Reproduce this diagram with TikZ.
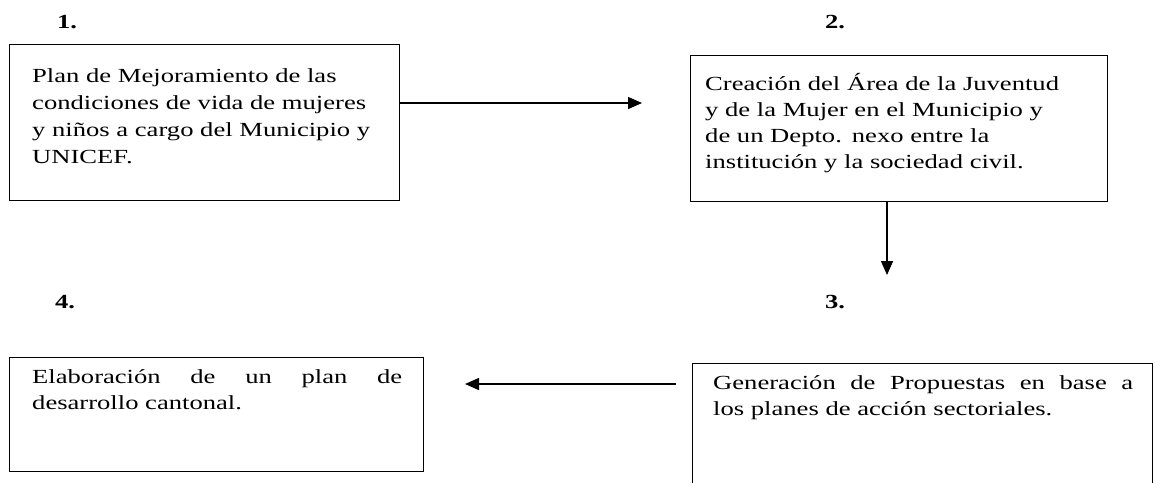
\documentclass[tikz,border=0pt]{standalone}
\usepackage{fontspec}
\setmainfont{Liberation Serif}[FakeStretch=1.33]
\usetikzlibrary{arrows.meta}
\begin{document}
\begin{tikzpicture}[x=1pt,y=-1pt,
  box/.style={draw, line width=1.4pt, inner sep=0pt, anchor=north west},
  txt/.style={inner sep=0pt, anchor=north west, align=left, text width=450pt,
    font=\fontsize{20}{26}\selectfont},
  lab/.style={inner sep=0pt, font=\fontsize{20}{26}\selectfont\bfseries},
  conn/.style={line width=1.4pt, -{Triangle[length=14pt,width=12pt]}}]
\useasboundingbox (0,0) rectangle (1155,482);
\clip (0,0) rectangle (1155,482);
\fill[white] (0,0) rectangle (1155,482);
% labels
\node[lab] (n1) at (67,22) {1.};
\node[lab] (n2) at (835,22) {2.};
\node[lab] (n3) at (835,302) {3.};
\node[lab] (n4) at (65,302) {4.};
% boxes
\node[box, minimum width=390pt, minimum height=156pt] (b1) at (9,44) {};
\node[box, minimum width=417pt, minimum height=146pt] (b2) at (690,55) {};
\node[box, minimum width=460pt, minimum height=140pt] (b3) at (692,363) {};
\node[box, minimum width=414pt, minimum height=114pt] (b4) at (9,357) {};
% texts
\node[txt, font=\fontsize{20}{27}\selectfont] (t1) at (32,63.1) {\strut Plan de Mejoramiento de las\\condiciones de vida de mujeres\\y niños a cargo del Municipio y\\UNICEF.};
\node[txt] (t2) at (705,71.8) {\strut Creación del Área de la Juventud\\y de la Mujer en el Municipio y\\de un Depto. nexo entre la\\institución y la sociedad civil.};
\node[txt] (t3) at (713,370.8) {\strut\hbox to 420pt{Generación\hfill de\hfill Propuestas\hfill en\hfill base\hfill a}\\los planes de acción sectoriales.};
\node[txt] (t4) at (32,364.8) {\strut\hbox to 370pt{Elaboración\hfill de\hfill un\hfill plan\hfill de}\\desarrollo cantonal.};
% connectors
\coordinate (a12) at (642,103);
\coordinate (a23) at (887,275);
\coordinate (s34) at (676,384);
\coordinate (a34) at (465,384);
\draw[conn] (b1.east |- a12) -- (a12);
\draw[conn] (b2.south -| a23) -- (a23);
\draw[conn] (s34) -- (a34);
\end{tikzpicture}
\end{document}
